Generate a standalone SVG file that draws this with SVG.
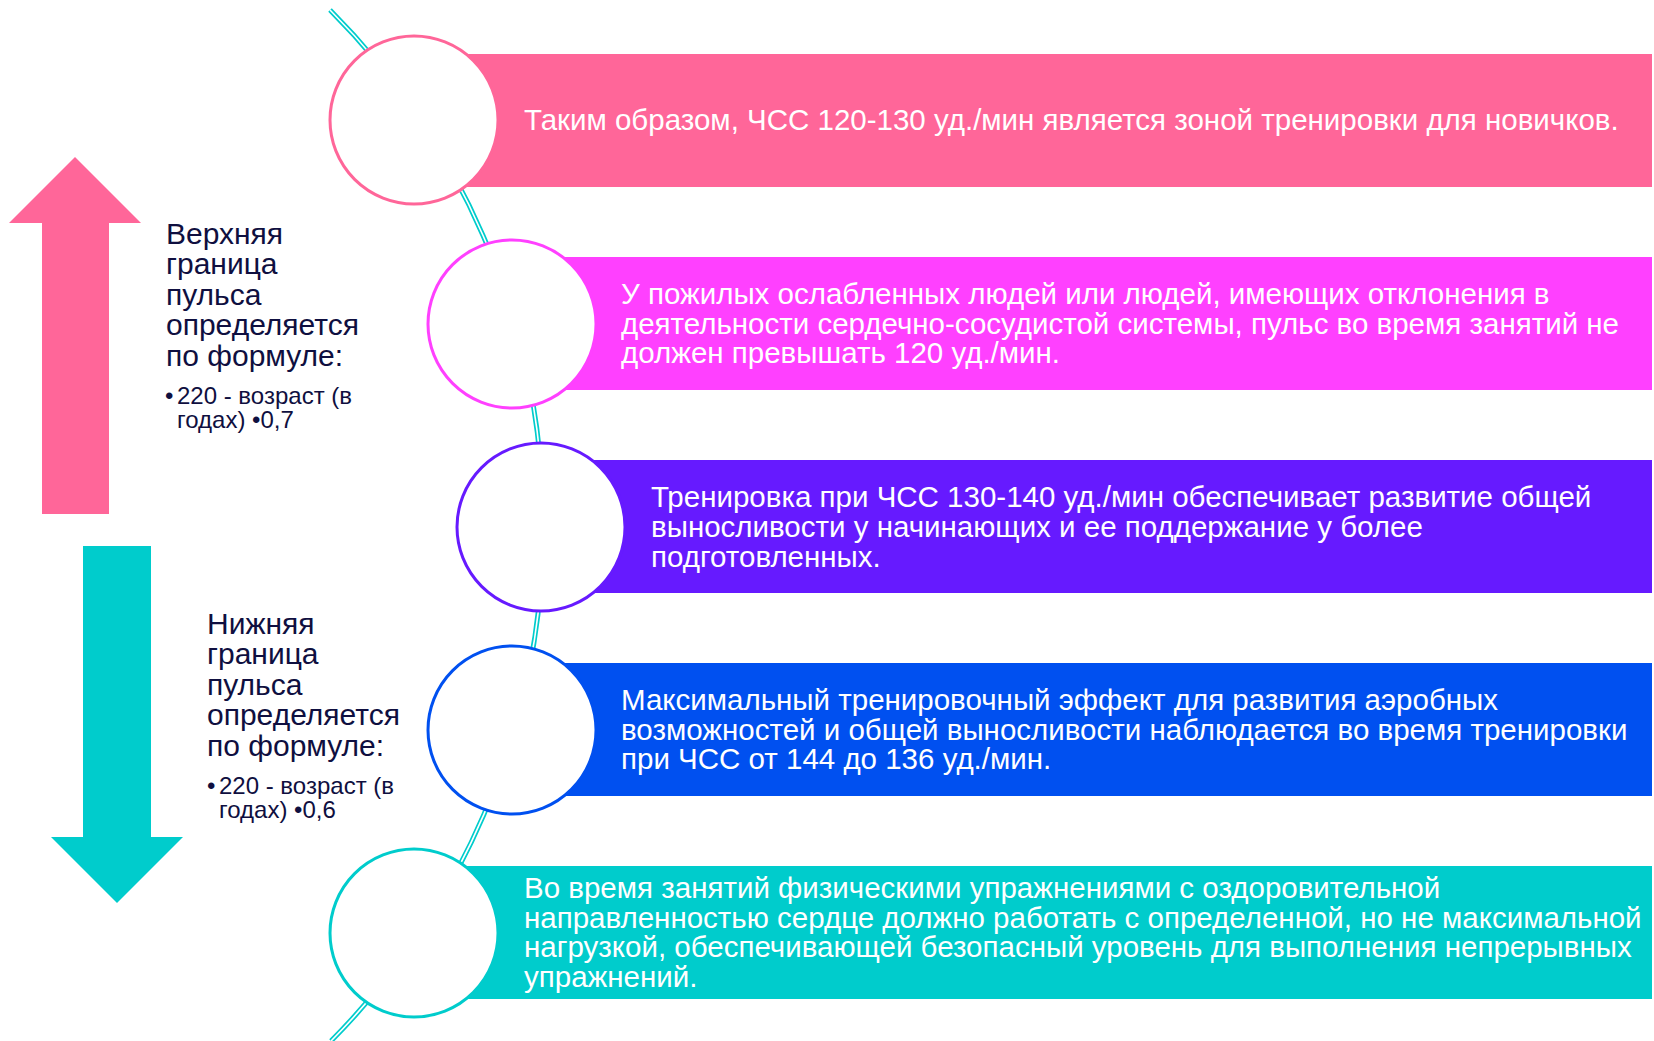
<svg xmlns="http://www.w3.org/2000/svg" width="1654" height="1041" viewBox="0 0 1654 1041">
<style>
.bar{stroke:none}
.circ{fill:#FFFFFF;stroke-width:3}
.bt{font-family:"Liberation Sans",Arial,sans-serif;font-size:29.5px;fill:#FFFFFF}
.lt{font-family:"Liberation Sans",Arial,sans-serif;font-size:30px;fill:#0F0F40}
.st{font-family:"Liberation Sans",Arial,sans-serif;font-size:24px;fill:#0F0F40}
</style>
<rect width="1654" height="1041" fill="#FFFFFF"/>
<g id="arrow-up"><polygon points="75,157 141,223 109,223 109,514 42,514 42,223 9,223" fill="#FF6699"/></g>
<g id="arrow-down"><polygon points="83,546 151,546 151,837 183,837 117,903 51,837 83,837" fill="#00CCCC"/></g>
<g id="upper-label">
<text class="lt" x="166" y="244">Верхняя</text>
<text class="lt" x="166" y="274">граница</text>
<text class="lt" x="166" y="305">пульса</text>
<text class="lt" x="166" y="335">определяется</text>
<text class="lt" x="166" y="366">по формуле:</text>
<text class="st" x="165" y="404">•</text>
<text class="st" x="177" y="404">220 - возраст (в</text>
<text class="st" x="177" y="428">годах) •0,7</text>
</g>
<g id="lower-label">
<text class="lt" x="207" y="634">Нижняя</text>
<text class="lt" x="207" y="664">граница</text>
<text class="lt" x="207" y="695">пульса</text>
<text class="lt" x="207" y="725">определяется</text>
<text class="lt" x="207" y="756">по формуле:</text>
<text class="st" x="207" y="794">•</text>
<text class="st" x="219" y="794">220 - возраст (в</text>
<text class="st" x="219" y="818">годах) •0,6</text>
</g>
<g id="connectors">
<path d="M 330 10 A 731 731 0 0 1 331 1041" fill="none" stroke="#00CCCC" stroke-width="5"/>
<path d="M 330 10 A 731 731 0 0 1 331 1041" fill="none" stroke="#FFFFFF" stroke-width="1.6"/>
</g>
<g id="node1">
<rect class="bar" x="414" y="54" width="1238" height="133" fill="#FF6699"/>
<circle class="circ" cx="414" cy="120" r="84" stroke="#FF6699"/>
<text class="bt" x="524" y="130">Таким образом, ЧСС 120-130 уд./мин является зоной тренировки для новичков.</text>
</g>
<g id="node2">
<rect class="bar" x="512" y="257" width="1140" height="133" fill="#FF40FF"/>
<circle class="circ" cx="512" cy="324" r="84" stroke="#FF40FF"/>
<text class="bt" x="621" y="304">У пожилых ослабленных людей или людей, имеющих отклонения в</text>
<text class="bt" x="621" y="334">деятельности сердечно-сосудистой системы, пульс во время занятий не</text>
<text class="bt" x="621" y="363">должен превышать 120 уд./мин.</text>
</g>
<g id="node3">
<rect class="bar" x="541" y="460" width="1111" height="133" fill="#661AFF"/>
<circle class="circ" cx="541" cy="527" r="84" stroke="#661AFF"/>
<text class="bt" x="651" y="507">Тренировка при ЧСС 130-140 уд./мин обеспечивает развитие общей</text>
<text class="bt" x="651" y="537">выносливости у начинающих и ее поддержание у более</text>
<text class="bt" x="651" y="567">подготовленных.</text>
</g>
<g id="node4">
<rect class="bar" x="512" y="663" width="1140" height="133" fill="#0050F0"/>
<circle class="circ" cx="512" cy="730" r="84" stroke="#0050F0"/>
<text class="bt" x="621" y="710">Максимальный тренировочный эффект для развития аэробных</text>
<text class="bt" x="621" y="740">возможностей и общей выносливости наблюдается во время тренировки</text>
<text class="bt" x="621" y="769">при ЧСС от 144 до 136 уд./мин.</text>
</g>
<g id="node5">
<rect class="bar" x="414" y="866" width="1238" height="133" fill="#00CCCC"/>
<circle class="circ" cx="414" cy="933" r="84" stroke="#00CCCC"/>
<text class="bt" x="524" y="898">Во время занятий физическими упражнениями с оздоровительной</text>
<text class="bt" x="524" y="928">направленностью сердце должно работать с определенной, но не максимальной</text>
<text class="bt" x="524" y="957">нагрузкой, обеспечивающей безопасный уровень для выполнения непрерывных</text>
<text class="bt" x="524" y="987">упражнений.</text>
</g>
</svg>
